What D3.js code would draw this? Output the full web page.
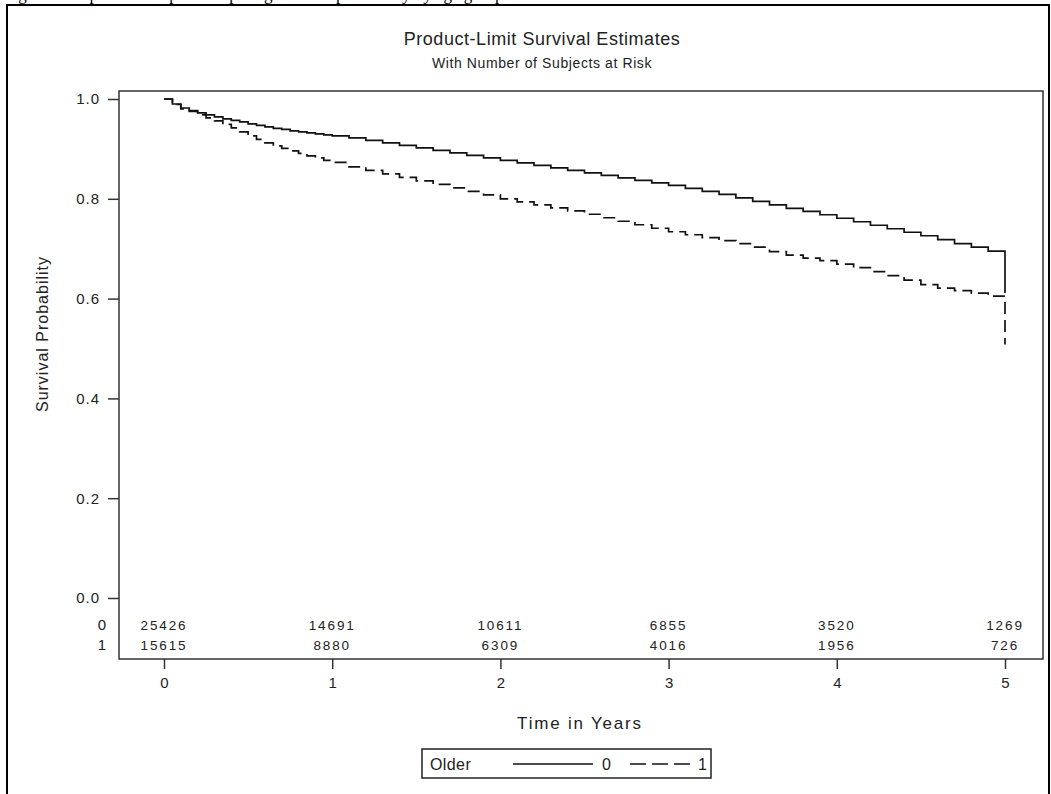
<!DOCTYPE html>
<html>
<head>
<meta charset="utf-8">
<script src="https://cdn.jsdelivr.net/npm/d3@7"></script>
<style>
  html, body { margin: 0; padding: 0; background: #fff; }
  svg { display: block; }
  text { font-family: "Liberation Sans", Arial, sans-serif; fill: #222; }
</style>
</head>
<body>
<svg id="chart" width="1051" height="794"></svg>
<script>
// Kaplan-Meier estimates; finer spacing in the first year, last entry is the drop at the final time.
const timeYears = [0.00, 0.05, 0.10, 0.15, 0.20, 0.25, 0.30, 0.35, 0.40, 0.45,
                   0.50, 0.55, 0.60, 0.65, 0.70, 0.75, 0.80, 0.85, 0.90, 0.95,
                   1.0, 1.1, 1.2, 1.3, 1.4, 1.5, 1.6, 1.7, 1.8, 1.9,
                   2.0, 2.1, 2.2, 2.3, 2.4, 2.5, 2.6, 2.7, 2.8, 2.9,
                   3.0, 3.1, 3.2, 3.3, 3.4, 3.5, 3.6, 3.7, 3.8, 3.9,
                   4.0, 4.1, 4.2, 4.3, 4.4, 4.5, 4.6, 4.7, 4.8, 4.9,
                   5.0, 5.0];

const survivalOlder0 = [1.000, 0.990, 0.982, 0.977, 0.972, 0.968, 0.964, 0.960, 0.957, 0.954,
                        0.950, 0.947, 0.944, 0.941, 0.939, 0.936, 0.934, 0.932, 0.930, 0.928,
                        0.926, 0.922, 0.917, 0.912, 0.907, 0.902, 0.897, 0.892, 0.887, 0.882,
                        0.877, 0.872, 0.867, 0.862, 0.857, 0.852, 0.847, 0.842, 0.837, 0.832,
                        0.827, 0.821, 0.815, 0.809, 0.802, 0.795, 0.788, 0.781, 0.775, 0.768,
                        0.761, 0.754, 0.747, 0.740, 0.733, 0.726, 0.718, 0.710, 0.703, 0.695,
                        0.686, 0.611];

const survivalOlder1 = [1.000, 0.989, 0.980, 0.975, 0.968, 0.962, 0.956, 0.949, 0.942, 0.934,
                        0.926, 0.919, 0.912, 0.906, 0.901, 0.896, 0.891, 0.886, 0.882, 0.877,
                        0.873, 0.864, 0.857, 0.850, 0.843, 0.836, 0.829, 0.822, 0.815, 0.808,
                        0.800, 0.794, 0.788, 0.782, 0.776, 0.769, 0.762, 0.755, 0.748, 0.741,
                        0.734, 0.728, 0.722, 0.716, 0.710, 0.703, 0.694, 0.687, 0.681, 0.676,
                        0.669, 0.662, 0.654, 0.646, 0.637, 0.628, 0.621, 0.616, 0.611, 0.605,
                        0.586, 0.508];

// Number of subjects at risk at each whole year
const riskTimes = [0, 1, 2, 3, 4, 5];
const atRisk0 = [25426, 14691, 10611, 6855, 3520, 1269];
const atRisk1 = [15615, 8880, 6309, 4016, 1956, 726];

const xTicks = [0, 1, 2, 3, 4, 5];
const yTicks = [0.0, 0.2, 0.4, 0.6, 0.8, 1.0];
const groupNames = ["0", "1"];

const svg = d3.select("#chart");

// Document caption line, mostly cut off by the top edge
svg.append("text")
  .attr("x", 4).attr("y", 0)
  .style("font-family", "'Liberation Serif', 'Times New Roman', serif")
  .style("font-size", "17px").style("fill", "#000")
  .text("Figure 2. Kaplan-Meier plot comparing survival probability by age group");

// Outer frame
svg.append("rect")
  .attr("x", 7).attr("y", 5).attr("width", 1042).attr("height", 800)
  .attr("fill", "none").attr("stroke", "#000").attr("stroke-width", 2);

const plot = { left: 119, right: 1043, top: 91, bottom: 659 };

const x = d3.scaleLinear().domain([0, 5]).range([164, 1005]);
const y = d3.scaleLinear().domain([0, 1]).range([598, 99]);

// Titles
svg.append("text").attr("x", 542).attr("y", 45).attr("text-anchor", "middle")
  .style("font-size", "18px").style("letter-spacing", "0.55px")
  .text("Product-Limit Survival Estimates");
svg.append("text").attr("x", 542).attr("y", 68).attr("text-anchor", "middle")
  .style("font-size", "14px").style("letter-spacing", "0.6px")
  .text("With Number of Subjects at Risk");

// Plot frame
svg.append("rect")
  .attr("x", plot.left).attr("y", plot.top)
  .attr("width", plot.right - plot.left).attr("height", plot.bottom - plot.top)
  .attr("fill", "none").attr("stroke", "#333").attr("stroke-width", 1.5);

// Y axis
const yAxis = d3.axisLeft(y).tickValues(yTicks).tickFormat(d3.format(".1f"))
  .tickSize(11).tickPadding(8);
const yG = svg.append("g").attr("transform", `translate(${plot.left},0)`).call(yAxis);
yG.select(".domain").remove();
yG.selectAll(".tick line").attr("stroke", "#333").attr("stroke-width", 1.5);
yG.selectAll(".tick text").style("font-size", "15px").style("letter-spacing", "1px")
  .style("font-family", "'Liberation Sans', Arial, sans-serif").attr("fill", "#222");

// X axis
const xAxis = d3.axisBottom(x).tickValues(xTicks).tickFormat(d3.format("d"))
  .tickSize(10).tickPadding(8);
const xG = svg.append("g").attr("transform", `translate(0,${plot.bottom})`).call(xAxis);
xG.select(".domain").remove();
xG.selectAll(".tick line").attr("stroke", "#333").attr("stroke-width", 1.5);
xG.selectAll(".tick text").style("font-size", "15px")
  .style("font-family", "'Liberation Sans', Arial, sans-serif").attr("fill", "#222");

// Axis titles
svg.append("text").attr("x", 580).attr("y", 729).attr("text-anchor", "middle")
  .style("font-size", "17px").style("letter-spacing", "1.8px")
  .text("Time in Years");
svg.append("text")
  .attr("transform", "translate(48,334) rotate(-90)")
  .attr("text-anchor", "middle")
  .style("font-size", "16px").style("letter-spacing", "1px")
  .text("Survival Probability");

// Survival curves
const line = d3.line()
  .x((d, i) => x(timeYears[i]))
  .y(d => y(d))
  .curve(d3.curveStepAfter);

svg.append("path").datum(survivalOlder0)
  .attr("d", line).attr("fill", "none")
  .attr("stroke", "#111").attr("stroke-width", 1.7);

svg.append("path").datum(survivalOlder1)
  .attr("d", line).attr("fill", "none")
  .attr("stroke", "#111").attr("stroke-width", 1.7)
  .attr("stroke-dasharray", "12,6");

// At-risk table
const riskRows = [
  { name: groupNames[0], counts: atRisk0, yPos: 630 },
  { name: groupNames[1], counts: atRisk1, yPos: 650 }
];
riskRows.forEach(row => {
  svg.append("text").attr("x", 106).attr("y", row.yPos).attr("text-anchor", "end")
    .style("font-size", "15px").text(row.name);
  svg.selectAll(null).data(row.counts).enter().append("text")
    .attr("x", (d, i) => x(riskTimes[i]))
    .attr("y", row.yPos)
    .attr("text-anchor", "middle")
    .style("font-size", "13.5px").style("letter-spacing", "1.9px")
    .text(d => d);
});

// Legend
const lg = svg.append("g");
lg.append("rect").attr("x", 422).attr("y", 749).attr("width", 289).attr("height", 29)
  .attr("fill", "none").attr("stroke", "#222").attr("stroke-width", 1.5);
lg.append("text").attr("x", 430).attr("y", 770).style("font-size", "16px")
  .style("letter-spacing", "0.4px").text("Older");
lg.append("line").attr("x1", 513).attr("x2", 593).attr("y1", 764).attr("y2", 764)
  .attr("stroke", "#111").attr("stroke-width", 1.5);
lg.append("text").attr("x", 602).attr("y", 770).style("font-size", "16px").text(groupNames[0]);
lg.append("line").attr("x1", 630).attr("x2", 690).attr("y1", 764).attr("y2", 764)
  .attr("stroke", "#111").attr("stroke-width", 1.5).attr("stroke-dasharray", "16,6");
lg.append("text").attr("x", 698).attr("y", 770).style("font-size", "16px").text(groupNames[1]);
</script>
</body>
</html>
